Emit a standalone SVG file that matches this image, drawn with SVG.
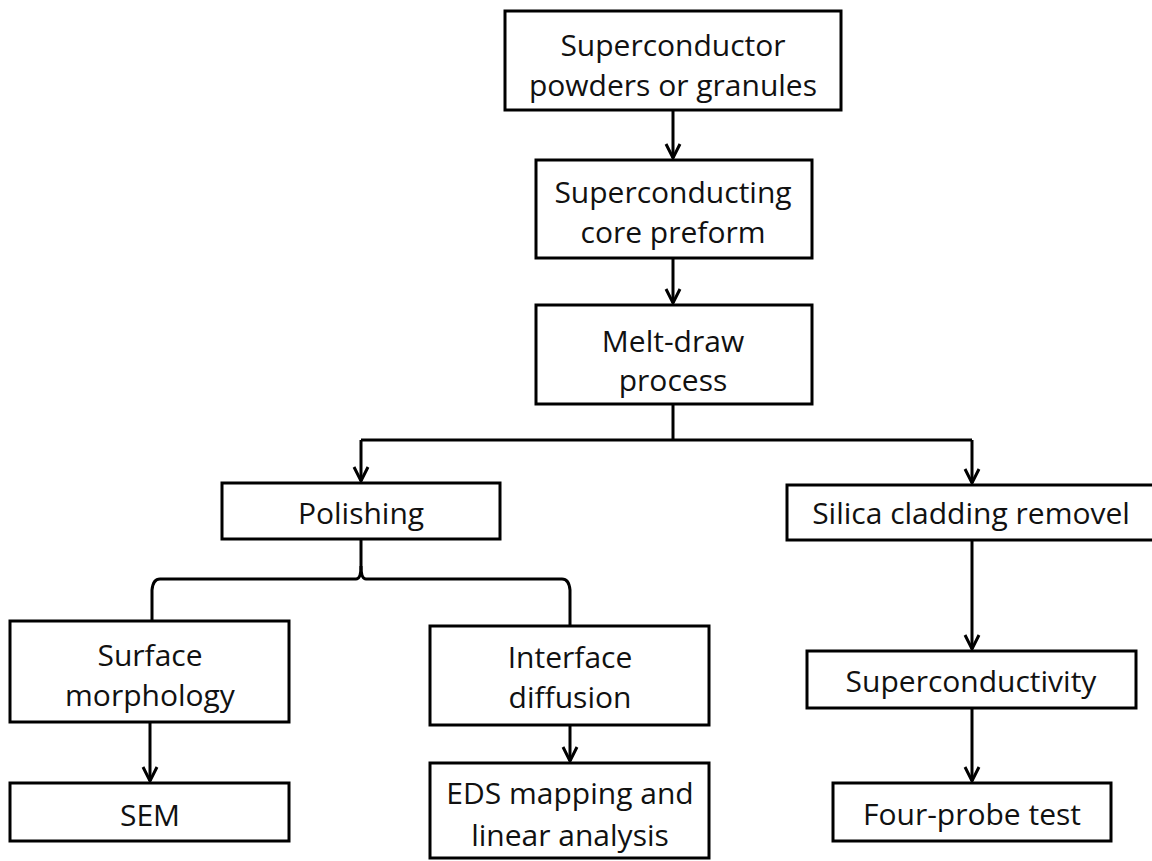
<svg xmlns="http://www.w3.org/2000/svg" width="1152" height="861" viewBox="0 0 1152 861">
<defs>
<style>
.box{fill:#fff;stroke:#000;stroke-width:3}
.t{font-family:"Open Sans","Liberation Sans",sans-serif;font-size:30px;fill:#111;text-anchor:middle}
.c{fill:none;stroke:#000;stroke-width:3}
</style>
<marker id="ah" markerUnits="userSpaceOnUse" markerWidth="20" markerHeight="20" refX="0" refY="0" orient="auto" overflow="visible">
<path d="M-14,-7 L0,0 L-14,7" fill="none" stroke="#000" stroke-width="3"/>
</marker>
</defs>
<rect width="1152" height="861" fill="#fff"/>
<g id="connectors">
<path class="c" d="M673,110 V158" marker-end="url(#ah)"/>
<path class="c" d="M673,258 V303" marker-end="url(#ah)"/>
<path class="c" d="M673,404 V440"/>
<path class="c" d="M361,440 H972"/>
<path class="c" d="M361,440 V481" marker-end="url(#ah)"/>
<path class="c" d="M972,440 V483" marker-end="url(#ah)"/>
<path class="c" d="M361,539 V566 Q361,579 356,579 H160 Q153,579 152,590 L152,620"/>
<path class="c" d="M361,566 Q361,579 366,579 H562 Q569,579 570,590 L570,626"/>
<path class="c" d="M150,722 V781" marker-end="url(#ah)"/>
<path class="c" d="M570,725 V761" marker-end="url(#ah)"/>
<path class="c" d="M972,540 V649" marker-end="url(#ah)"/>
<path class="c" d="M972,708 V781" marker-end="url(#ah)"/>
</g>
<g id="n1"><rect class="box" x="505" y="11" width="336" height="99"/><text class="t" x="673" y="56">Superconductor</text><text class="t" x="673" y="96">powders or granules</text></g>
<g id="n2"><rect class="box" x="536" y="160" width="276" height="98"/><text class="t" x="673" y="203">Superconducting</text><text class="t" x="673" y="243">core preform</text></g>
<g id="n3"><rect class="box" x="536" y="305" width="276" height="99"/><text class="t" x="673" y="352">Melt-draw</text><text class="t" x="673" y="391">process</text></g>
<g id="n4"><rect class="box" x="222" y="483" width="278" height="56"/><text class="t" x="361" y="524">Polishing</text></g>
<g id="n5"><rect class="box" x="787" y="485" width="373" height="55"/><text class="t" x="971" y="524">Silica cladding removel</text></g>
<g id="n6"><rect class="box" x="10" y="621" width="279" height="101"/><text class="t" x="150" y="666">Surface</text><text class="t" x="150" y="706">morphology</text></g>
<g id="n7"><rect class="box" x="430" y="626" width="279" height="99"/><text class="t" x="570" y="668">Interface</text><text class="t" x="570" y="708">diffusion</text></g>
<g id="n8"><rect class="box" x="10" y="783" width="279" height="58"/><text class="t" x="150" y="826">SEM</text></g>
<g id="n9"><rect class="box" x="430" y="763" width="279" height="95"/><text class="t" x="570" y="804">EDS mapping and</text><text class="t" x="570" y="846">linear analysis</text></g>
<g id="n10"><rect class="box" x="807" y="651" width="329" height="57"/><text class="t" x="971" y="692">Superconductivity</text></g>
<g id="n11"><rect class="box" x="833" y="783" width="278" height="58"/><text class="t" x="972" y="825">Four-probe test</text></g>
</svg>
